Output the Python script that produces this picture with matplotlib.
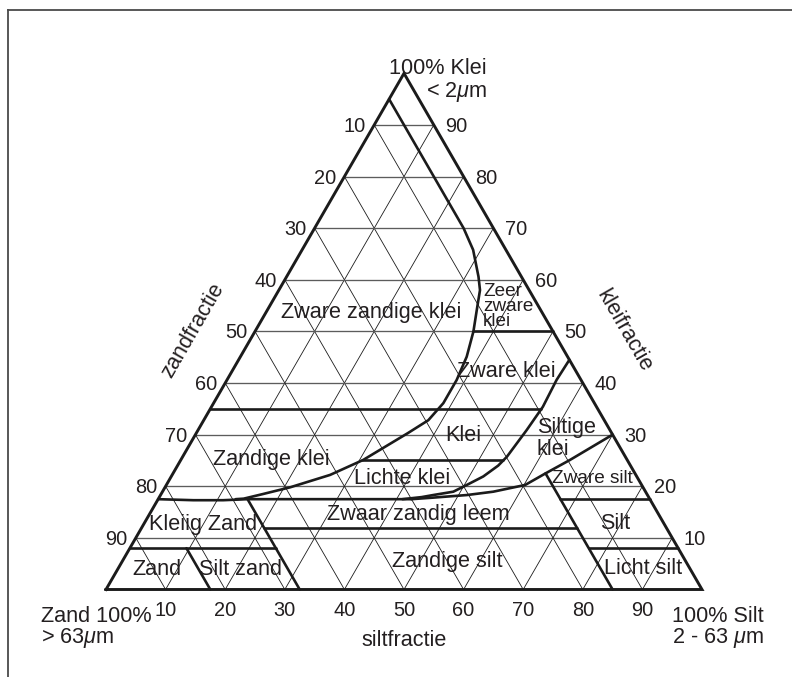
import numpy as np
import matplotlib
matplotlib.use("Agg")
import matplotlib.pyplot as plt
from matplotlib.lines import Line2D
from matplotlib.transforms import offset_copy

plt.rcParams["font.family"] = ["Liberation Sans", "DejaVu Sans"]
plt.rcParams["mathtext.fontset"] = "custom"
plt.rcParams["mathtext.rm"] = "Liberation Sans"
plt.rcParams["mathtext.it"] = "Liberation Sans:italic"

# ---------------------------------------------------------------- data
# Ternary texture triangle: clay (klei) upwards, silt to the right,
# sand = 100 - clay - silt.
grid_levels = [10, 20, 30, 40, 50, 60, 70, 80, 90]

# Curved class boundaries as (clay %, silt %) pairs
curve_a_clay = [95.0, 70.0, 65.8, 60.6, 58.0, 54.8, 50.0, 45.1, 40.6, 36.1,
                32.8, 30.3, 25.1, 22.2, 19.8, 18.5, 17.6, 17.5]
curve_a_silt = [0.0, 25.0, 28.7, 32.2, 33.75, 34.9, 36.65, 37.97, 38.54, 38.55,
                37.68, 35.5, 30.6, 26.5, 21.0, 17.1, 14.3, 13.0]

curve_b_clay = [44.5, 40.6, 35.4, 30.9, 25.7, 24.0, 21.9, 20.25, 18.95, 18.3,
                17.9, 17.5]
curve_b_silt = [55.5, 55.3, 55.6, 55.14, 54.4, 53.8, 52.35, 50.4, 48.8, 45.75,
                44.0, 41.0]

curve_c_clay = [30.0, 25.1, 22.5, 20.25, 18.95, 18.3, 17.8, 17.5]
curve_c_silt = [70.0, 65.3, 62.5, 60.2, 55.5, 51.4, 46.0, 42.5]

base_clay = [17.5, 17.3, 17.3, 17.5, 17.5]
base_silt = [0.0, 6.0, 11.0, 15.0, 42.5]

# Straight class limits
clay_limits = [50.0, 35.0, 25.0, 17.5, 12.0, 8.0]
sand_limits = [82.5, 67.5, 15.0]

class_names = ["Zware zandige klei", "Zeer\nzware\nklei", "Zware klei", "Klei",
               "Siltige\nklei", "Zandige klei", "Lichte klei", "Zware silt",
               "Zwaar zandig leem", "Silt", "Kleiig Zand", "Zand", "Silt zand",
               "Zandige silt", "Licht silt"]

# ------------------------------------------------------------- helpers
SQ3 = np.sqrt(3.0) / 2.0


def xy(clay, silt):
    clay = np.asarray(clay, dtype=float)
    silt = np.asarray(silt, dtype=float)
    return silt + clay / 2.0, clay * SQ3


def silt_on(cc, ss, clay):
    return float(np.interp(clay, cc[::-1], ss[::-1]))


W, H, DPI = 792, 677, 100
fig = plt.figure(figsize=(W / DPI, H / DPI), dpi=DPI)
ax = fig.add_axes([0, 0, 1, 1])
scale = 5.96
ox, oy = 106.0, 589.5
ax.set_xlim(-ox / scale, (W - ox) / scale)
ax.set_ylim((oy - H) / scale, oy / scale)
ax.set_aspect("equal")
ax.axis("off")

INK = "#1b1b1b"
TXT = "#231f20"


def line(clay, silt, **kw):
    x, y = xy(clay, silt)
    ax.plot(x, y, **kw)


thin = dict(color=INK, lw=0.6, solid_capstyle="butt")
hgrid = dict(color="#5c5c5c", lw=0.95, solid_capstyle="butt")
thick = dict(color=INK, lw=1.9, solid_capstyle="round", solid_joinstyle="round")

# grid
for g in grid_levels:
    line([0, 100 - g], [g, g], **thin)               # constant silt
    line([0, 100 - g], [100 - g, 0], **thin)         # constant sand
    line([g, g], [0, 100 - g], **hgrid)              # constant clay

# curved boundaries
line(curve_a_clay, curve_a_silt, **thick)
line(curve_b_clay, curve_b_silt, **thick)
line(curve_c_clay, curve_c_silt, **thick)
line(base_clay, base_silt, **thick)

# horizontal limits
c50, c35, c25, c175, c12, c8 = clay_limits
s82, s67, s15 = sand_limits
line([c50, c50], [silt_on(curve_a_clay, curve_a_silt, c50), 100 - c50], **thick)
line([c35, c35], [0, silt_on(curve_b_clay, curve_b_silt, c35)], **thick)
line([c25, c25], [silt_on(curve_a_clay, curve_a_silt, c25),
                  silt_on(curve_b_clay, curve_b_silt, c25)], **thick)
line([c175, c175], [100 - s15 - c175, 100 - c175], **thick)
line([c12, c12], [100 - s67 - c12, 100 - s15 - c12], **thick)
line([c8, c8], [0, 100 - s67 - c8], **thick)
line([c8, c8], [100 - s15 - c8, 100 - c8], **thick)

# constant-sand limits
line([0, c8], [100 - s82, 100 - s82 - c8], **thick)
line([0, c175], [100 - s67, 100 - s67 - c175], **thick)
sand15_top = curve_c_clay[2]
line([0, sand15_top], [100 - s15, 100 - s15 - sand15_top], **thick)

# outline
ox_, oy_ = xy([0, 0, 100, 0], [0, 100, 0, 0])
ax.plot(ox_, oy_, color=INK, lw=2.1, solid_joinstyle="miter")


def put(clay, silt, text, dx=0, dy=0, **kw):
    """Text at a ternary point, shifted by dx, dy pixels (dy downwards)."""
    tr = offset_copy(ax.transData, fig=fig, x=dx, y=-dy, units="dots")
    x, y = xy(clay, silt)
    kw.setdefault("color", TXT)
    ax.text(float(x), float(y), text, transform=tr, **kw)


FT = 15.6   # titles and class names
FK = 14.4   # tick numbers

# tick numbers
for g in grid_levels:
    put(0, g, str(g), dy=26.5, ha="center", va="baseline", fontsize=FK)
    put(g, 0, str(100 - g), dx=-8, dy=7, ha="right", va="baseline", fontsize=FK)
    put(g, 100 - g, str(g), dx=11.5, dy=7, ha="left", va="baseline", fontsize=FK)

# corner and axis titles
put(100, 0, "100% Klei", dx=83, dy=1, ha="right", va="baseline", fontsize=FT)
put(100, 0, r"< 2$\mu$m", dx=83, dy=24, ha="right", va="baseline", fontsize=FT)
put(0, 0, "Zand 100%", dx=-64.6, dy=32.2, ha="left", va="baseline", fontsize=FT)
put(0, 0, r"> 63$\mu$m", dx=-64.6, dy=53, ha="left", va="baseline", fontsize=FT)
put(0, 100, "100% Silt", dx=-30.3, dy=32.2, ha="left", va="baseline", fontsize=FT)
put(0, 100, r"2 - 63 $\mu$m", dx=-30.3, dy=53, ha="left", va="baseline", fontsize=FT)
put(0, 50, "siltfractie", dy=56.5, ha="center", va="baseline", fontsize=FT)
put(50, 0, "zandfractie", dx=-62, dy=-0.5, ha="center", va="center",
    rotation=60, rotation_mode="anchor", fontsize=FT)
put(50, 50, "kleifractie", dx=70.7, dy=-1, ha="center", va="center",
    rotation=-60, rotation_mode="anchor", fontsize=FT)

# class names: anchor (clay, silt), alignment, size
label_anchor = [(53.6, 17.66), (54.8, 35.86), (42.2, 46.1), (29.9, 44.95),
                (29.2, 57.66), (25.1, 15.13), (21.5, 38.9), (21.5, 70.85),
                (14.6, 45.05), (12.8, 79.0), (12.5, 9.97), (3.9, 6.55),
                (3.9, 20.65), (5.4, 54.5), (4.1, 88.1)]
label_align = ["center", "left", "center", "center", "left", "center", "center",
               "center", "center", "center", "center", "center", "center",
               "center", "center"]
label_size = [FT, 13.6, FT, FT, FT, FT, FT, 13.7, FT, FT, FT, FT, FT, FT, FT]
label_spacing = [1.0, 0.82, 1.0, 1.0, 1.05, 1.0, 1.0, 1.0, 1.0, 1.0, 1.0, 1.0,
                 1.0, 1.0, 1.0]

for name, (cc, ss), ha, fs, ls in zip(class_names, label_anchor, label_align,
                                      label_size, label_spacing):
    put(cc, ss, name, ha=ha, va="center", fontsize=fs, linespacing=ls,
        multialignment="left")

# page frame (top and left rules)
fx = 7.5 / W
fy = 1 - 10.3 / H
fig.add_artist(Line2D([fx, 1.0], [fy, fy], transform=fig.transFigure,
                      color="#4a4a4a", lw=1.3))
fig.add_artist(Line2D([fx, fx], [fy, 0.0], transform=fig.transFigure,
                      color="#4a4a4a", lw=1.3))

fig.savefig("out.png", dpi=DPI, facecolor="white")
